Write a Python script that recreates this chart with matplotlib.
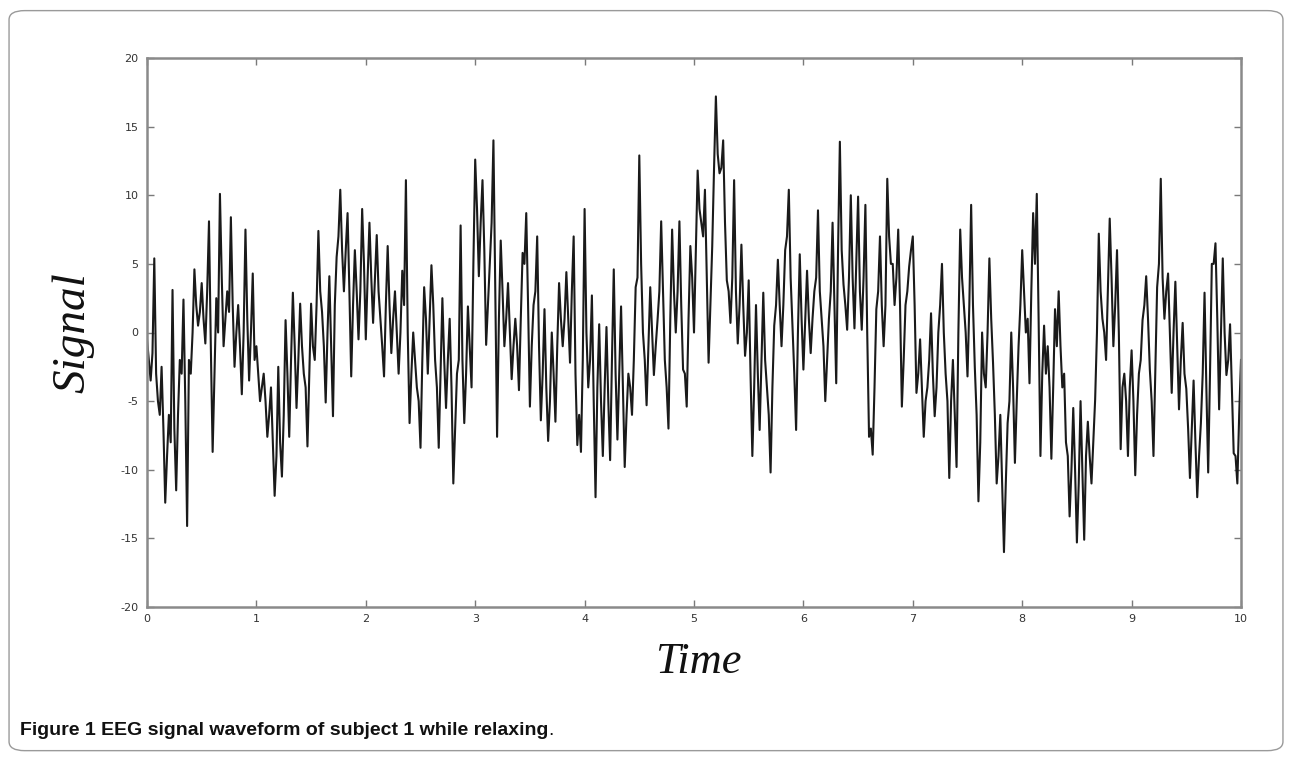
import numpy as np
import matplotlib.pyplot as plt
from matplotlib.patches import FancyBboxPatch

plt.rcParams['axes.unicode_minus'] = False

# pics du signal EEG, 30 par unite de temps
peaks = [
    # 0 - 1
    -0.5, -3.5, 5.4, -5, -2.5, -12.4, -6, 3.1, -11.5, -2,
    2.4, -14.1, -3, 4.6, 0.5, 3.6, -0.8, 8.1, -8.7, 2.5,
    10.1, -1, 3, 8.4, -2.5, 2, -4.5, 7.5, -3.5, 4.3,
    # 1 - 2
    -1, -5, -3, -7.6, -4, -11.9, -2.5, -10.5, 0.9, -7.6,
    2.9, -5.5, 2.1, -3, -8.3, 2.1, -2, 7.4, 1.5, -5.1,
    4.1, -6.1, 5.5, 10.4, 3, 8.7, -3.2, 6, -0.5, 9,
    # 2 - 3
    -0.5, 8, 0.7, 7.1, 1, -3.2, 6.3, -1.5, 3, -3,
    4.5, 11.1, -6.6, 0, -4, -8.4, 3.3, -3, 4.9, -2,
    -8.4, 2.5, -5.5, 1, -11, -3, 7.8, -6.6, 1.9, -4,
    # 3 - 4
    12.6, 4.1, 11.1, -0.9, 5, 14, -7.6, 6.7, -1, 3.6,
    -3.4, 1, -4.2, 5.8, 8.7, -5.4, 2, 7, -6.4, 1.7,
    -7.9, 0, -6.5, 3.6, -1, 4.4, -2.2, 7, -8.2, -8.7,
    # 4 - 5
    9, -4, 2.7, -12, 0.6, -9, 0.4, -9.3, 4.6, -7.8,
    1.9, -9.8, -3, -6, 3.3, 12.9, 0, -5.3, 3.3, -3.1,
    0.9, 8.1, -2, -7, 7.5, 0, 8.1, -2.7, -5.4, 6.3,
    # 5 - 6
    0, 11.8, 8, 10.4, -2.2, 6.3, 17.2, 11.6, 14, 3.8,
    0.7, 11.1, -0.8, 6.4, -1.7, 3.8, -9, 2, -7.1, 2.9,
    -4, -10.2, 0.5, 5.3, -1, 6, 10.4, 0.5, -7.1, 5.7,
    # 6 - 7
    -2.7, 4.5, -1.5, 3, 8.9, 1, -5, 1, 8, -3.7,
    13.9, 3.5, 0.2, 10, 0.3, 9.9, 0.2, 9.3, -7.6, -8.9,
    1.7, 7, -1, 11.2, 5, 2, 7.5, -5.4, 2, 4.8,
    # 7 - 8
    7, -4.4, -0.5, -7.6, -4, 1.4, -6.1, 0, 5, -3,
    -10.6, -2, -9.8, 7.5, 2, -3.2, 9.3, -2.5, -12.3, 0,
    -4, 5.4, -2.2, -11, -6, -16, -6.6, 0, -9.5, -1,
    # 8 - 9
    6, 0, -3.7, 8.7, 10.1, -9, 0.5, -1, -9.2, 1.7,
    3, -4, -8, -13.4, -5.5, -15.3, -5, -15.1, -6.5, -11,
    -4.9, 7.2, 1, -2, 8.3, -1, 6, -8.5, -3, -9,
    # 9 - 10
    -1.3, -10.4, -3, 0.9, 4.1, -2.7, -9, 3.3, 11.2, 1,
    4.3, -4.4, 3.7, -5.6, 0.7, -4.1, -10.6, -3.5, -12, -6.6,
    2.9, -10.2, 5, 6.5, -5.6, 5.4, -3.1, 0.6, -8.8, -11,
    -2,
]

# valeurs du coeur sombre de la trace, entre deux pics
mids = [
    # 0 - 1
    -2, -1.5, -3, -6, -7, -9, -8, -7, -6, -3,
    -5, -2, 0, 2, 1.5, 1, 3, -1, -3, 0,
    4, 1, 1.5, 2, 0, -1, 0, 1, 0, -2,
    # 1 - 2
    -3, -4, -5, -6, -8, -9, -8, -6, -3, -2,
    -1, -2, -1, -4, -3, -1, 2, 3, -1, 0,
    -1, 2, 7, 6, 6, 3, 2, 3, 3, 5,
    # 2 - 3
    4, 4, 4, 3, -1, 2, 2, 1, 0, 0,
    2, 0, -3, -2, -5, -2, 1, 1, 2, -4,
    -3, -2, -2, -4, -7, -2, -2, -3, -1, 5,
    # 3 - 4
    9, 8, 6, 2, 8, 3, 1, 3, 1, 0,
    -1, -1, 1, 5, 2, -1, 3, -1, -3, -4,
    -5, -3, -1, 1, 1, 1, 3, -3, -6, -2,
    # 4 - 5
    0, -2, -5, -4, -5, -4, -5, -2, -3, -3,
    -4, -6, -4, -2, 4, 5, -2, -1, 0, -1,
    3, 3, -4, 1, 3, 3, 2, -3, 1, 4,
    # 5 - 6
    6, 9, 7, 4, 2, 12, 13, 12, 8, 3,
    4, 3, 2, 2, 0, -3, -4, -3, -2, -2,
    -6, -4, 2, 2, 2, 7, 4, -3, 0, 1,
    # 6 - 7
    1, 1, 1, 4, 3, -1, -2, 3, 2, 6,
    6, 2, 4, 4, 5, 3, 4, 0, -7, -4,
    3, 2, 2, 7, 5, 4, 2, -2, 3, 6,
    # 7 - 8
    2, -3, -4, -5, -2, -3, -4, 2, 0, -5,
    -5, -6, 0, 4, 0, 2, 2, -6, -8, -3,
    0, 1, -6, -9, -11, -11, -5, -4, -5, 2,
    # 8 - 9
    3, 1, 3, 5, 1, -3, -3, -4, -4, -1,
    -1, -3, -9, -10, -10, -11, -10, -9, -9, -8,
    0, 3, 0, 3, 4, 2, 0, -4, -5, -4,
    # 9 - 10
    -5, -6, -2, 2, 1, -5, -3, 5, 4, 3,
    0, 0, -1, -2, -3, -7, -7, -8, -9, -3,
    -4, -3, 5, 1, 0, 0, -2, -4, -9, -6,
]

signal = np.empty(len(peaks) + len(mids))
signal[0::2] = peaks
signal[1::2] = mids
samples_per_unit = 60
time = np.arange(len(signal)) / samples_per_unit

x_ticks = list(range(0, 11))
y_ticks = list(range(-20, 21, 5))

fig = plt.figure(figsize=(12.92, 7.59), dpi=100)

# cadre arrondi autour de la figure
frame = FancyBboxPatch((0.007, 0.011), 0.986, 0.975,
                       boxstyle="round,pad=0,rounding_size=0.012",
                       transform=fig.transFigure, facecolor="white",
                       edgecolor="#9a9a9a", linewidth=1.0, zorder=-1)
fig.patches.append(frame)

ax = fig.add_axes([147 / 1292, 1 - 607 / 759, (1241 - 147) / 1292, (607 - 58) / 759])
ax.plot(time, signal, color="#1a1a1a", linewidth=1.5)

ax.set_xlim(0, 10)
ax.set_ylim(-20, 20)
ax.set_xticks(x_ticks)
ax.set_yticks(y_ticks)
ax.tick_params(direction="in", length=5, width=1, colors="#7a7a7a",
               labelcolor="#333333", labelsize=8, top=True, right=True,
               labeltop=False, labelright=False)
ax.tick_params(axis="x", pad=5)
ax.tick_params(axis="y", pad=6)
for sp in ax.spines.values():
    sp.set_color("#8a8a8a")
    sp.set_linewidth(1.8)

fig.text(73 / 1292, 1 - 333 / 759, "Signal", rotation=90, ha="center", va="center",
         fontsize=34, style="italic", family="Liberation Serif", color="#111111")
fig.text(698 / 1292, 1 - 662 / 759, "Time", ha="center", va="center",
         fontsize=32, style="italic", family="Liberation Serif", color="#111111")

caption = fig.text(20 / 1292, 1 - 739 / 759,
                   "Figure 1 EEG signal waveform of subject 1 while relaxing",
                   ha="left", va="bottom", fontsize=14, fontweight="bold",
                   family="Liberation Sans", color="#111111")
fig.text(0, 0, "", transform=caption.get_transform())
ax.annotate(".", xy=(1, 0), xycoords=caption, ha="left", va="bottom",
            fontsize=14, family="Liberation Sans", color="#111111",
            annotation_clip=False)

fig.savefig("out.png", dpi=100)
